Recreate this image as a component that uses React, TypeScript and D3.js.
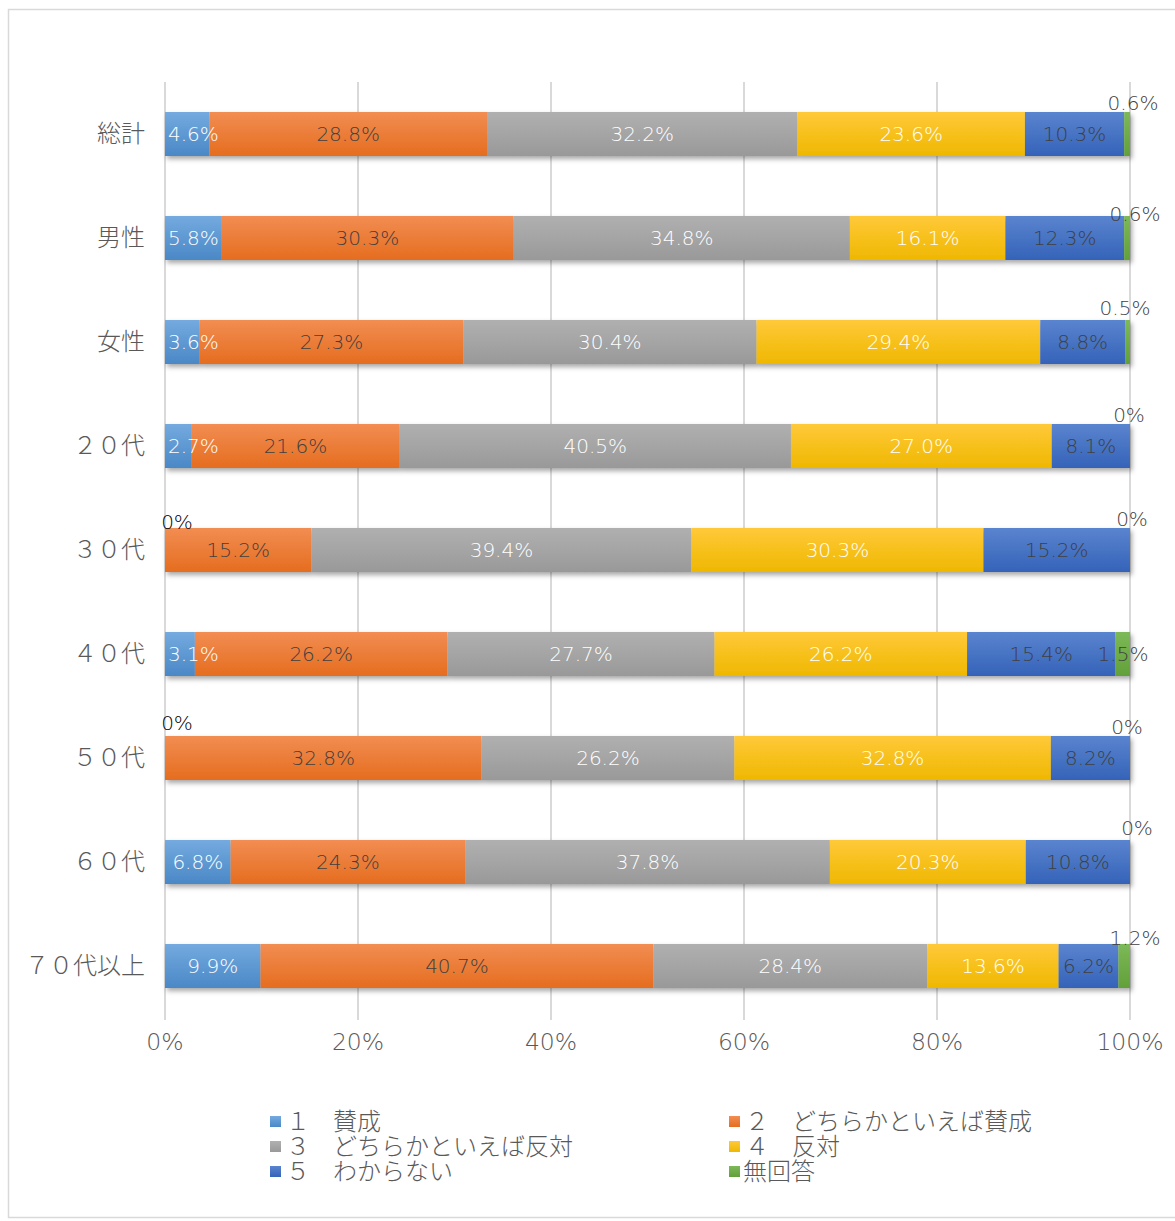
import React from "react";
import * as d3 from "d3";

const categories = ["総計", "男性", "女性", "２０代", "３０代", "４０代", "５０代", "６０代", "７０代以上"];
const seriesNums = ["１", "２", "３", "４", "５", ""];
const seriesNames = ["賛成", "どちらかといえば賛成", "どちらかといえば反対", "反対", "わからない", "無回答"];
const s1 = [4.6, 5.8, 3.6, 2.7, 0, 3.1, 0, 6.8, 9.9];
const s2 = [28.8, 30.3, 27.3, 21.6, 15.2, 26.2, 32.8, 24.3, 40.7];
const s3 = [32.2, 34.8, 30.4, 40.5, 39.4, 27.7, 26.2, 37.8, 28.4];
const s4 = [23.6, 16.1, 29.4, 27.0, 30.3, 26.2, 32.8, 20.3, 13.6];
const s5 = [10.3, 12.3, 8.8, 8.1, 15.2, 15.4, 8.2, 10.8, 6.2];
const s6 = [0.6, 0.6, 0.5, 0, 0, 1.5, 0, 0, 1.2];
const tickValues = [0, 20, 40, 60, 80, 100];

const colors = [
  ["#74aadf", "#4a88c6"],
  ["#f28d52", "#e56d1f"],
  ["#b0b0b0", "#999999"],
  ["#ffc93a", "#efb800"],
  ["#5a84cf", "#3563b8"],
  ["#7cb957", "#62a03a"],
];
const labelColors = ["#ffffff", "#404040", "#ffffff", "#ffffff", "#404040", "#404040"];
// outside label offsets for the last series (dx from bar end, dy from bar top)
const lastOffsets = [[3, -9], [5, -2], [-5, -12], [-1, -9], [2, -9], [-7, 22], [-3, -9], [7, -12], [5, -6]];
const firstZeroDy = [0, 0, 0, 0, 1, 0, -6, 0, 0];

const FONT = "'DejaVu Sans', 'Noto Sans CJK JP', sans-serif";
const JFONT = "'Noto Sans CJK JP', sans-serif";

function fmt(v: number) {
  return v === 0 ? "0%" : v.toFixed(1) + "%";
}
function textW(s: string, fs: number) {
  let w = 0;
  for (const ch of s) w += ch === "." ? 0.318 : ch === "%" ? 0.95 : 0.636;
  return w * fs;
}

export default function App() {
  const all = [s1, s2, s3, s4, s5, s6];
  const x = d3.scaleLinear().domain([0, 100]).range([165, 1130]);
  const y = d3.scalePoint<string>().domain(categories).range([82, 1018]).padding(0.5);
  const barH = 44;
  const LFS = 20;

  const rows = categories.map((c, i) => {
    const vals = all.map((s) => s[i]);
    const total = d3.sum(vals);
    let acc = 0;
    const segs = vals.map((v, k) => {
      const x0 = (acc / total) * 100;
      acc += v;
      const x1 = (acc / total) * 100;
      return { k, v, x0, x1 };
    });
    return { c, i, segs };
  });

  const legendPos = [
    [270, 1122], [729, 1122],
    [270, 1147], [729, 1147],
    [270, 1172], [729, 1172],
  ];

  return (
    <svg width={1175} height={1221} style={{ position: "absolute", left: 0, top: 0, fontFamily: FONT }}>
      <defs>
        {colors.map((c, k) => (
          <linearGradient key={k} id={`g${k}`} x1="0" y1="0" x2="0" y2="1">
            <stop offset="0" stopColor={c[0]} />
            <stop offset="1" stopColor={c[1]} />
          </linearGradient>
        ))}
        <filter id="sh" x="-5%" y="-30%" width="110%" height="170%">
          <feDropShadow dx="2" dy="3" stdDeviation="2.5" floodColor="#000" floodOpacity="0.35" />
        </filter>
      </defs>
      <rect x={0} y={0} width={1175} height={1221} fill="#fff" />
      <rect x={8.5} y={9.5} width={1180} height={1208} fill="none" stroke="#d9d9d9" strokeWidth={1.5} />
      {tickValues.map((t) => (
        <g key={t}>
          <line x1={x(t)} x2={x(t)} y1={82} y2={1020} stroke="#d9d9d9" strokeWidth={2} />
          <text x={x(t)} y={1050} textAnchor="middle" fontSize={23.5} fill="#595959" fontWeight={200}>{t}%</text>
        </g>
      ))}
      {rows.map((r) => {
        const yc = y(r.c)!;
        const top = yc - barH / 2;
        return (
          <g key={r.c}>
            <text x={145} y={yc + 8} textAnchor="end" fontSize={24} fill="#595959" fontWeight={300} fontFamily={JFONT}>{r.c}</text>
            <g filter="url(#sh)">
              {r.segs.filter((s) => s.v > 0).map((s) => (
                <rect key={s.k} x={x(s.x0)} y={top} width={x(s.x1) - x(s.x0)} height={barH} fill={`url(#g${s.k})`} />
              ))}
            </g>
            {r.segs.map((s) => {
              const label = fmt(s.v);
              if (s.k === 5) {
                const [dx, dy] = lastOffsets[r.i];
                return (
                  <text key={s.k} x={x(100) + dx} y={top + dy + 7} textAnchor="middle" fontSize={LFS} fill="#404040" fontWeight={200}>{label}</text>
                );
              }
              if (s.v === 0) {
                return (
                  <text key={s.k} x={x(s.x0) + 12} y={top + firstZeroDy[r.i]} textAnchor="middle" fontSize={LFS} fill="#000000" fontWeight={200}>{label}</text>
                );
              }
              const tw = textW(label, LFS);
              const cx = Math.max((x(s.x0) + x(s.x1)) / 2, x(s.x0) + tw / 2 + 3);
              return (
                <text key={s.k} x={cx} y={yc + 7} textAnchor="middle" fontSize={LFS} fill={labelColors[s.k]} fontWeight={200}>{label}</text>
              );
            })}
          </g>
        );
      })}
      {seriesNames.map((n, k) => (
        <g key={n}>
          <rect x={legendPos[k][0]} y={legendPos[k][1] - 6} width={11} height={11} fill={`url(#g${k})`} />
          {seriesNums[k] ? (
            <>
              <text x={legendPos[k][0] + 16} y={legendPos[k][1] + 8} fontSize={24} fill="#595959" fontWeight={300} fontFamily={JFONT}>{seriesNums[k]}</text>
              <text x={legendPos[k][0] + 63} y={legendPos[k][1] + 8} fontSize={24} fill="#595959" fontWeight={300} fontFamily={JFONT}>{n}</text>
            </>
          ) : (
            <text x={legendPos[k][0] + 14} y={legendPos[k][1] + 8} fontSize={24} fill="#595959" fontWeight={300} fontFamily={JFONT}>{n}</text>
          )}
        </g>
      ))}
    </svg>
  );
}
